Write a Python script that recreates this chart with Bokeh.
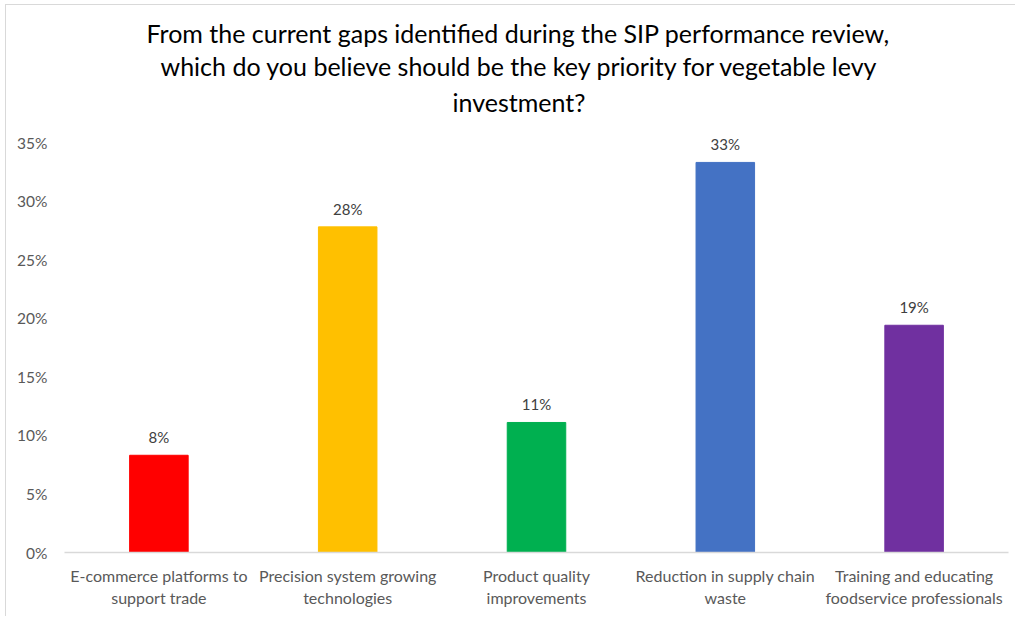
from bokeh.plotting import figure
from bokeh.models import ColumnDataSource, Range1d, FactorRange, FixedTicker, NumeralTickFormatter, Title
from bokeh.core.properties import value
from bokeh.embed import file_html
from bokeh.resources import INLINE

categories = ["E-commerce platforms to\nsupport trade",
              "Precision system growing\ntechnologies",
              "Product quality\nimprovements",
              "Reduction in supply chain\nwaste",
              "Training and educating\nfoodservice professionals"]
shares = [0.083, 0.278, 0.111, 0.333, 0.194]
colors = ["#FF0000", "#FFC000", "#00B050", "#4472C4", "#7030A0"]
ticks = [0, 0.05, 0.10, 0.15, 0.20, 0.25, 0.30, 0.35]
title_lines = ["From the current gaps identified during the SIP performance review,",
               "which do you believe should be the key priority for vegetable levy",
               "investment?"]
title_offsets = [82, 96, 388]
title_standoffs = [1, 0, 8]

FONT = "Lato"

src = ColumnDataSource(dict(k=categories, v=shares, c=colors,
                            t=["%d%%" % round(s * 100) for s in shares]))

p = figure(width=1010, height=612, output_backend="svg", toolbar_location=None,
           x_range=FactorRange(factors=categories, range_padding=0),
           y_range=Range1d(0, 0.3688),
           min_border_left=58, min_border_right=8, min_border_bottom=65, min_border_top=115)
p.styles = {"margin-left": "5px", "margin-top": "4px",
            "border-left": "1px solid #d9d9d9", "border-top": "1px solid #d9d9d9"}
p.title = None
for line, off, so in reversed(list(zip(title_lines, title_offsets, title_standoffs))):
    p.add_layout(Title(text=line, align="left", offset=off, text_font=FONT,
                       text_font_size="25px", text_font_style="normal",
                       text_color="#000000", standoff=so), "above")

p.vbar(x="k", top="v", width=0.31, color="c", source=src)
p.text(x="k", y="v", text="t", source=src, y_offset=-9, text_align="center",
       text_baseline="bottom", text_font=value(FONT), text_font_size="15px",
       text_color="#404040")

p.xgrid.visible = False
p.ygrid.visible = False
p.outline_line_color = None

p.yaxis.ticker = FixedTicker(ticks=ticks)
p.yaxis.formatter = NumeralTickFormatter(format="0%")
p.yaxis.axis_line_color = None
p.yaxis.major_tick_line_color = None
p.yaxis.minor_tick_line_color = None
p.yaxis.major_label_standoff = 11
p.yaxis.major_label_text_font = FONT
p.yaxis.major_label_text_font_size = "15.5px"
p.yaxis.major_label_text_color = "#595959"

p.xaxis.axis_line_color = "#d9d9d9"
p.xaxis.axis_line_width = 1.5
p.xaxis.major_tick_line_color = None
p.xaxis.minor_tick_line_color = None
p.xaxis.major_label_standoff = 7
p.xaxis.major_label_text_font = FONT
p.xaxis.major_label_text_font_size = "16px"
p.xaxis.major_label_text_color = "#595959"
p.xaxis.major_label_text_line_height = 1.2

open("out.html", "w").write(file_html(p, INLINE))
